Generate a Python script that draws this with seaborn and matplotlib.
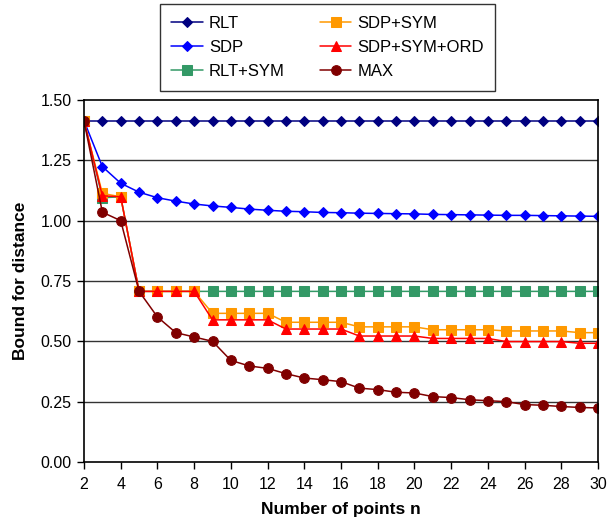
import pandas as pd
import matplotlib.pyplot as plt
import seaborn as sns

# data
n_points = list(range(2, 31))

rlt = [1.414] * 29
sdp = [1.414, 1.224, 1.155, 1.118, 1.095, 1.081, 1.069, 1.061, 1.055, 1.048,
       1.043, 1.039, 1.037, 1.034, 1.033, 1.031, 1.030, 1.029, 1.028, 1.026,
       1.025, 1.024, 1.023, 1.022, 1.022, 1.021, 1.020, 1.019, 1.018]
rlt_sym = [1.414, 1.095, 1.099] + [0.707] * 26
sdp_sym = ([1.414, 1.113, 1.099] + [0.707] * 4 + [0.616] * 4 + [0.579] * 4
           + [0.560] * 4 + [0.548] * 4 + [0.543] * 4 + [0.536] * 2)
sdp_sym_ord = ([1.414, 1.103, 1.099] + [0.707] * 4 + [0.589] * 4 + [0.551] * 4
               + [0.522] * 4 + [0.512] * 4 + [0.499] * 4 + [0.492] * 2)
max_dist = [1.414, 1.035, 1.000, 0.707, 0.601, 0.536, 0.518, 0.500, 0.421, 0.398,
            0.388, 0.366, 0.348, 0.341, 0.333, 0.306, 0.300, 0.289, 0.286, 0.271,
            0.267, 0.258, 0.254, 0.250, 0.238, 0.235, 0.230, 0.226, 0.224]

series_names = ["RLT", "SDP", "RLT+SYM", "SDP+SYM", "SDP+SYM+ORD", "MAX"]
series_values = [rlt, sdp, rlt_sym, sdp_sym, sdp_sym_ord, max_dist]
colors = ["#000080", "#0000FF", "#339966", "#FF9900", "#FF0000", "#800000"]
markers = ["D", "D", "s", "s", "^", "o"]
marker_sizes = [5.5, 5.5, 6.5, 7, 7, 7]

y_ticks = [0.0, 0.25, 0.5, 0.75, 1.0, 1.25, 1.5]
x_ticks = list(range(2, 31, 2))

sns.set_style("white")
plt.rcParams["font.family"] = ["Liberation Sans", "DejaVu Sans"]
plt.rcParams["text.color"] = "black"
plt.rcParams["axes.labelcolor"] = "black"
plt.rcParams["xtick.color"] = "black"
plt.rcParams["ytick.color"] = "black"

fig = plt.figure(figsize=(6.11, 5.26), dpi=100)
ax = fig.add_axes([84 / 611, (526 - 462) / 526, 514 / 611, 362 / 526])

for y in y_ticks[1:-1]:
    ax.axhline(y, color="#333333", lw=1.0, zorder=0)

for name, vals, c, m, ms in zip(series_names, series_values, colors, markers, marker_sizes):
    df = pd.DataFrame({"n": n_points, "bound": vals})
    sns.lineplot(data=df, x="n", y="bound", ax=ax, color=c, marker=m,
                 markersize=ms, markeredgecolor=c, linewidth=1.1, label=name)

ax.set_xlim(2, 30)
ax.set_ylim(0, 1.5)
ax.set_xticks(x_ticks)
ax.set_yticks(y_ticks)
ax.set_yticklabels([f"{v:.2f}" for v in y_ticks])
ax.tick_params(axis="both", direction="out", length=5, width=1, color="black",
               labelcolor="black", labelsize=11.5, bottom=True, left=True)
ax.tick_params(axis="x", pad=6)
ax.tick_params(axis="y", pad=4)
for sp in ax.spines.values():
    sp.set_color("black")
    sp.set_linewidth(1.2)

ax.set_xlabel("Number of points n", fontsize=12.5, fontweight="bold", labelpad=7)
ax.set_ylabel("Bound for distance", fontsize=12.5, fontweight="bold", labelpad=9)

ax.get_legend().remove()
handles, labels = ax.get_legend_handles_labels()
leg = fig.legend(handles, labels, loc="upper center", ncol=2,
                 bbox_to_anchor=(327.5 / 611, 1 - 4 / 526), fontsize=12,
                 frameon=True, fancybox=False, edgecolor="black",
                 columnspacing=2.1, handlelength=1.9, handletextpad=0.35,
                 labelspacing=0.55, borderpad=0.7, borderaxespad=0)
leg.get_frame().set_linewidth(1.0)
for t in leg.get_texts():
    t.set_color("black")

fig.savefig("out.png", dpi=100)
